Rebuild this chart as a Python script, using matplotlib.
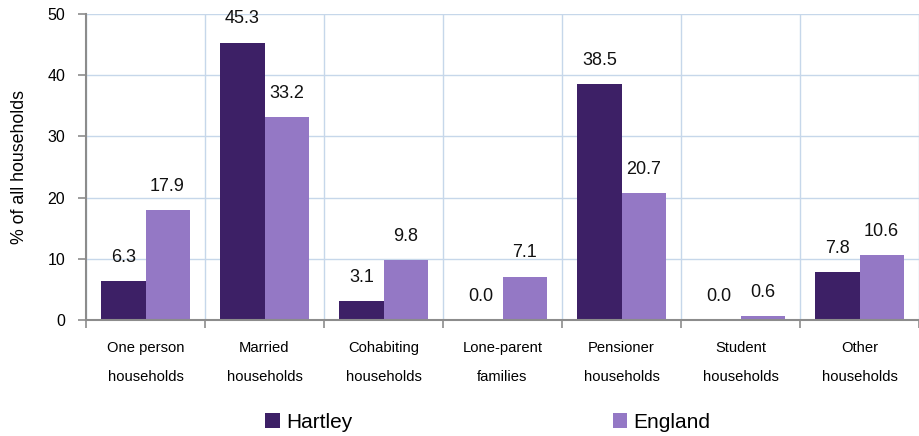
import numpy as np
import matplotlib.pyplot as plt
from matplotlib.ticker import FixedLocator

plt.rcParams['font.family'] = ['Liberation Sans', 'DejaVu Sans']

categories = ['One person\nhouseholds', 'Married\nhouseholds', 'Cohabiting\nhouseholds',
              'Lone-parent\nfamilies', 'Pensioner\nhouseholds', 'Student\nhouseholds',
              'Other\nhouseholds']
hartley = [6.3, 45.3, 3.1, 0.0, 38.5, 0.0, 7.8]
england = [17.9, 33.2, 9.8, 7.1, 20.7, 0.6, 10.6]

c_hart = '#3d2066'
c_eng = '#9478c5'
grid_c = '#c6d7ea'
axis_c = '#8c8c8c'

fig = plt.figure(figsize=(9.19, 4.36), dpi=100)
ax = fig.add_axes([86 / 919, 1 - 320 / 436, (919 - 86) / 919, (320 - 14) / 436])

x = np.arange(len(categories))
w = 0.37
b1 = ax.bar(x - w / 2, hartley, w, color=c_hart, label='Hartley', zorder=3)
b2 = ax.bar(x + w / 2, england, w, color=c_eng, label='England', zorder=3)

# value labels above each bar
for bars, vals in ((b1, hartley), (b2, england)):
    for r, v in zip(bars, vals):
        ax.annotate(f'{v:.1f}', (r.get_x() + r.get_width() / 2, v),
                    xytext=(0, 11), textcoords='offset points',
                    ha='center', va='bottom', fontsize=13, color='#111111')

ax.set_xlim(-0.5, len(categories) - 0.5)
ax.set_ylim(0, 50)
ax.set_yticks(range(0, 51, 10))
ax.set_xticks(x)
ax.set_xticklabels(categories, fontsize=10.6, linespacing=2.4)
ax.xaxis.set_minor_locator(FixedLocator(np.arange(-0.5, len(categories), 1.0)))
ax.tick_params(axis='x', which='major', length=0, pad=15)
ax.tick_params(axis='x', which='minor', length=6, color=axis_c, width=1.2)
ax.tick_params(axis='y', length=6, color=axis_c, width=1.2, labelsize=11.5, pad=9)

ax.grid(axis='y', color=grid_c, linewidth=1, zorder=0)
ax.grid(axis='x', which='minor', color=grid_c, linewidth=1, zorder=0)

for s in ('top', 'right'):
    ax.spines[s].set_visible(False)
for s in ('left', 'bottom'):
    ax.spines[s].set_color(axis_c)
    ax.spines[s].set_linewidth(1.5)
    ax.spines[s].set_zorder(4)

ax.set_ylabel('% of all households', fontsize=12.8, labelpad=14)

fig.legend(handles=[b1, b2], loc='center', bbox_to_anchor=(488 / 919, 1 - 422 / 436),
           ncol=2, frameon=False, fontsize=15, handlelength=0.7, handleheight=0.7,
           handletextpad=0.3, columnspacing=12.5)

fig.savefig('out.png', dpi=100)
